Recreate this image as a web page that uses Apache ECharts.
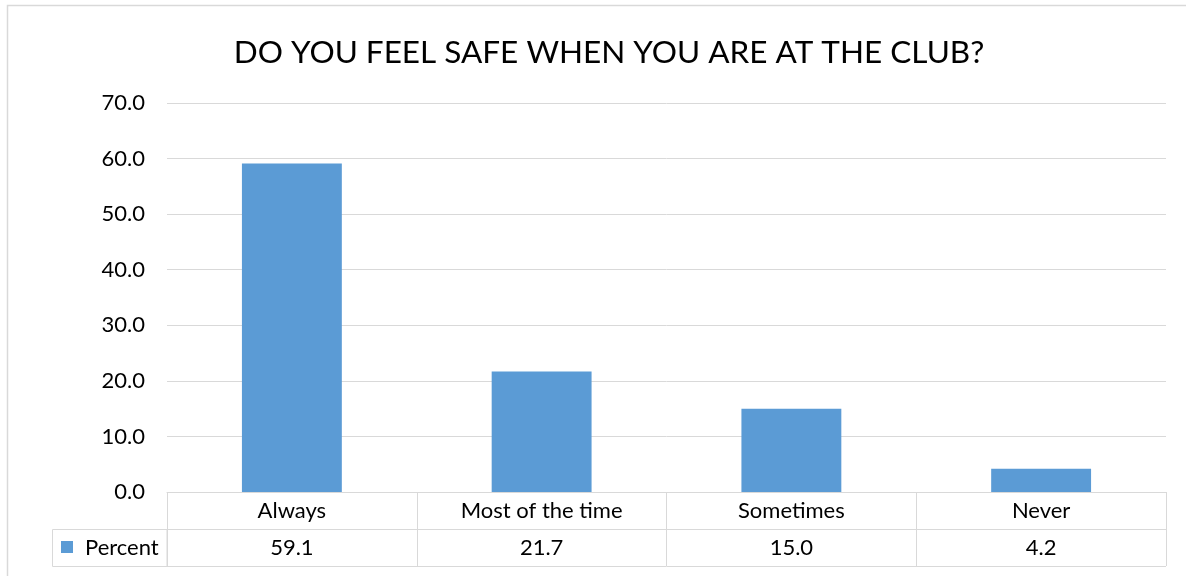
<!DOCTYPE html>
<html><head><meta charset="utf-8">
<script src="https://cdn.jsdelivr.net/npm/echarts@6/dist/echarts.min.js"></script>
<style>html,body{margin:0;padding:0;background:#fff}#c{width:1186px;height:576px}</style>
</head><body><div id="c"></div>
<script>
const title = 'DO YOU FEEL SAFE WHEN YOU ARE AT THE CLUB?';
const categories = ['Always', 'Most of the time', 'Sometimes', 'Never'];
const percent = [59.1, 21.7, 15.0, 4.2];
const seriesName = 'Percent';
const yMin = 0, yMax = 70, yStep = 10;

const FONT = 'Lato, "Open Sans", sans-serif';
const LS = 22;
const GRID = {left: 167, right: 20, top: 103, bottom: 84};
const ROW = 37;
const LINE = '#d9d9d9';
const BLUE = '#5b9bd5';

const chart = echarts.init(document.getElementById('c'));
const W = 1186, H = 576;
const gy0 = H - GRID.bottom;
const gx0 = GRID.left, gx1 = W - GRID.right;

chart.setOption({
  animation: false,
  title: {text: title, left: 604, top: 32, textAlign: 'center',
    textStyle: {fontFamily: FONT, fontSize: 31.5, fontWeight: 'normal', color: '#000'}},
  grid: GRID,
  xAxis: [{
    type: 'category', data: categories, position: 'bottom',
    axisLine: {show: true, lineStyle: {color: LINE, width: 1}},
    axisTick: {show: true, alignWithLabel: false, length: ROW * 2, inside: false, lineStyle: {color: LINE}},
    axisLabel: {fontFamily: FONT, fontSize: LS, color: '#000', margin: 8, interval: 0}
  }, {
    type: 'category', data: percent.map(v => v.toFixed(1)), position: 'bottom', offset: ROW,
    axisLine: {show: true, lineStyle: {color: LINE, width: 1}},
    axisTick: {show: false},
    axisLabel: {fontFamily: FONT, fontSize: LS, color: '#000', margin: 8, interval: 0}
  }],
  yAxis: {
    type: 'value', min: yMin, max: yMax, interval: yStep,
    axisLine: {show: false}, axisTick: {show: false},
    axisLabel: {fontFamily: FONT, fontSize: LS, color: '#000', margin: 22, formatter: v => v.toFixed(1)},
    splitLine: {lineStyle: {color: LINE, width: 1}}
  },
  series: [{
    name: seriesName, type: 'bar', data: percent, xAxisIndex: 0,
    barWidth: '40%', itemStyle: {color: BLUE}
  }],
  graphic: [
    {type: 'rect', shape: {x: 7.5, y: 5.5, width: 1300, height: 700}, style: {fill: 'none', stroke: LINE, lineWidth: 1.5}, silent: true},
    {type: 'rect', shape: {x: 52.5, y: gy0 + ROW + 0.5, width: gx0 - 52.5, height: ROW}, style: {fill: 'none', stroke: LINE, lineWidth: 1}},
    {type: 'line', shape: {x1: gx0, y1: gy0 + 2 * ROW + 0.5, x2: gx1, y2: gy0 + 2 * ROW + 0.5}, style: {stroke: LINE, lineWidth: 1}},
    {type: 'rect', shape: {x: 61, y: gy0 + ROW + 12, width: 12, height: 12}, style: {fill: BLUE}},
    {type: 'text', x: 85, y: gy0 + ROW + ROW / 2, style: {text: seriesName, font: LS + 'px ' + FONT, fill: '#000', textVerticalAlign: 'middle', verticalAlign: 'middle'}}
  ]
});
</script></body></html>
